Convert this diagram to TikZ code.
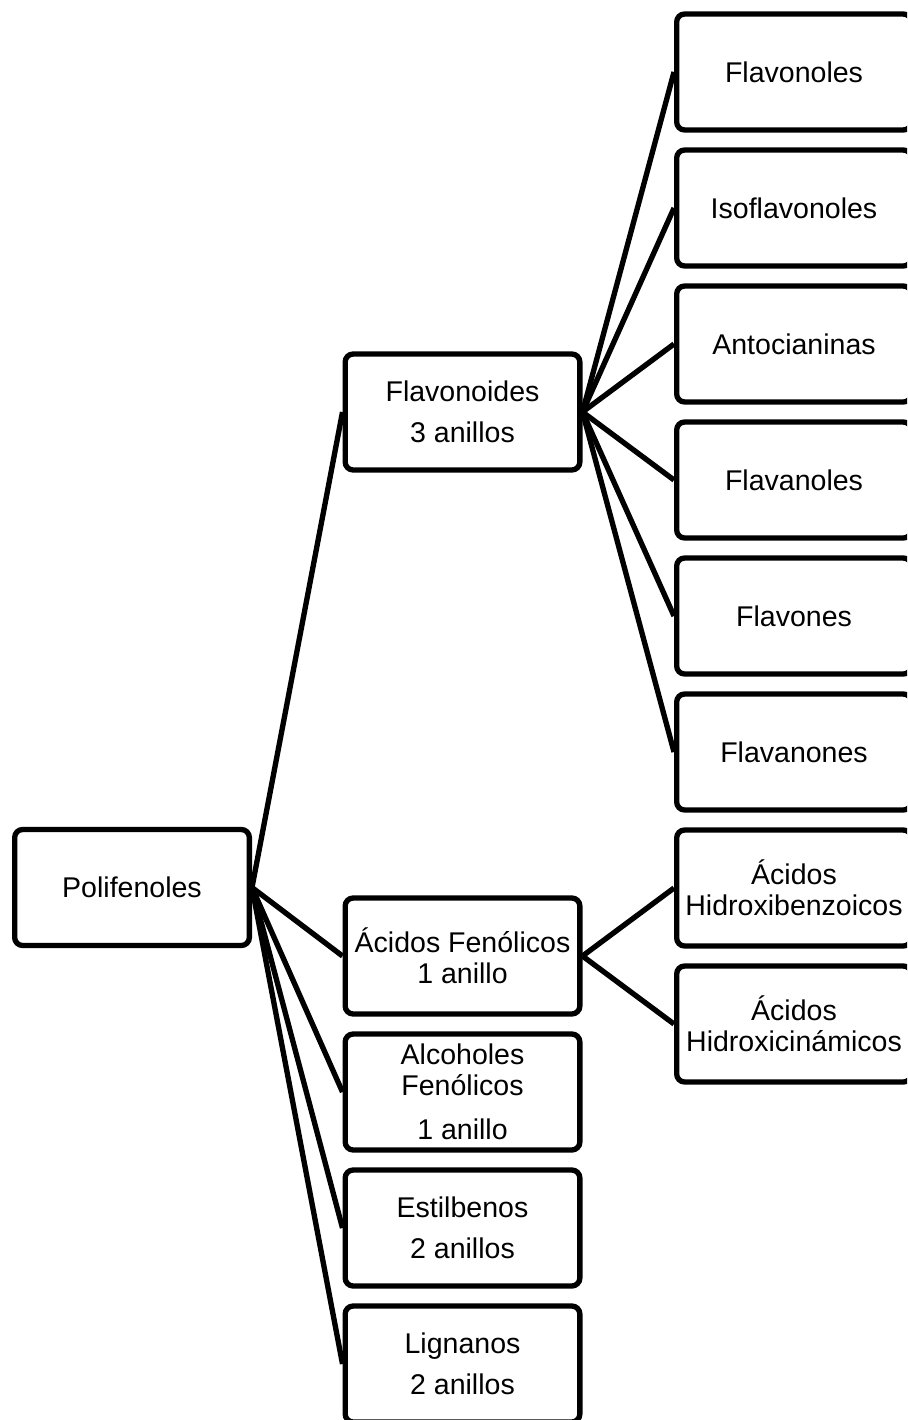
\documentclass[tikz,border=0pt]{standalone}
\usepackage{fontspec}
\setmainfont{Liberation Sans}
\usepackage{tikz}

\begin{document}
\begin{tikzpicture}[x=0.75pt, y=-0.75pt,
    caja/.style={rectangle, draw, line width=4pt, rounded corners=6pt, minimum width=176pt, minimum height=87pt, align=center, inner sep=2pt, font={\fontsize{21.4}{23}\selectfont}},
    arista/.style={line width=4pt}]
    \clip (0, 0) rectangle (907, 1420);
    \node[caja] (P) at (132, 887.5) {Polifenoles};

    \node[caja] (F) at (462.5, 412) {Flavonoides\\[8pt]3 anillos};
    \node[caja] (AF) at (462.5, 956) {Ácidos Fenólicos\\1 anillo};
    \node[caja] (AL) at (462.5, 1092) {Alcoholes\\Fenólicos\\[10pt]1 anillo};
    \node[caja] (E) at (462.5, 1228) {Estilbenos\\[8pt]2 anillos};
    \node[caja] (L) at (462.5, 1364) {Lignanos\\[8pt]2 anillos};

    \node[caja] (F1) at (794, 72) {Flavonoles};
    \node[caja] (F2) at (794, 208) {Isoflavonoles};
    \node[caja] (F3) at (794, 344) {Antocianinas};
    \node[caja] (F4) at (794, 480) {Flavanoles};
    \node[caja] (F5) at (794, 616) {Flavones};
    \node[caja] (F6) at (794, 752) {Flavanones};
    \node[caja] (H1) at (794, 888) {Ácidos\\Hidroxibenzoicos};
    \node[caja] (H2) at (794, 1024) {Ácidos\\Hidroxicinámicos};

    % aristas
    \draw[arista] (P.east) -- (F.west);
    \draw[arista] (P.east) -- (AF.west);
    \draw[arista] (P.east) -- (AL.west);
    \draw[arista] (P.east) -- (E.west);
    \draw[arista] (P.east) -- (L.west);
    \draw[arista] (F.east) -- (F1.west);
    \draw[arista] (F.east) -- (F2.west);
    \draw[arista] (F.east) -- (F3.west);
    \draw[arista] (F.east) -- (F4.west);
    \draw[arista] (F.east) -- (F5.west);
    \draw[arista] (F.east) -- (F6.west);
    \draw[arista] (AF.east) -- (H1.west);
    \draw[arista] (AF.east) -- (H2.west);
  \end{tikzpicture}
\end{document}
